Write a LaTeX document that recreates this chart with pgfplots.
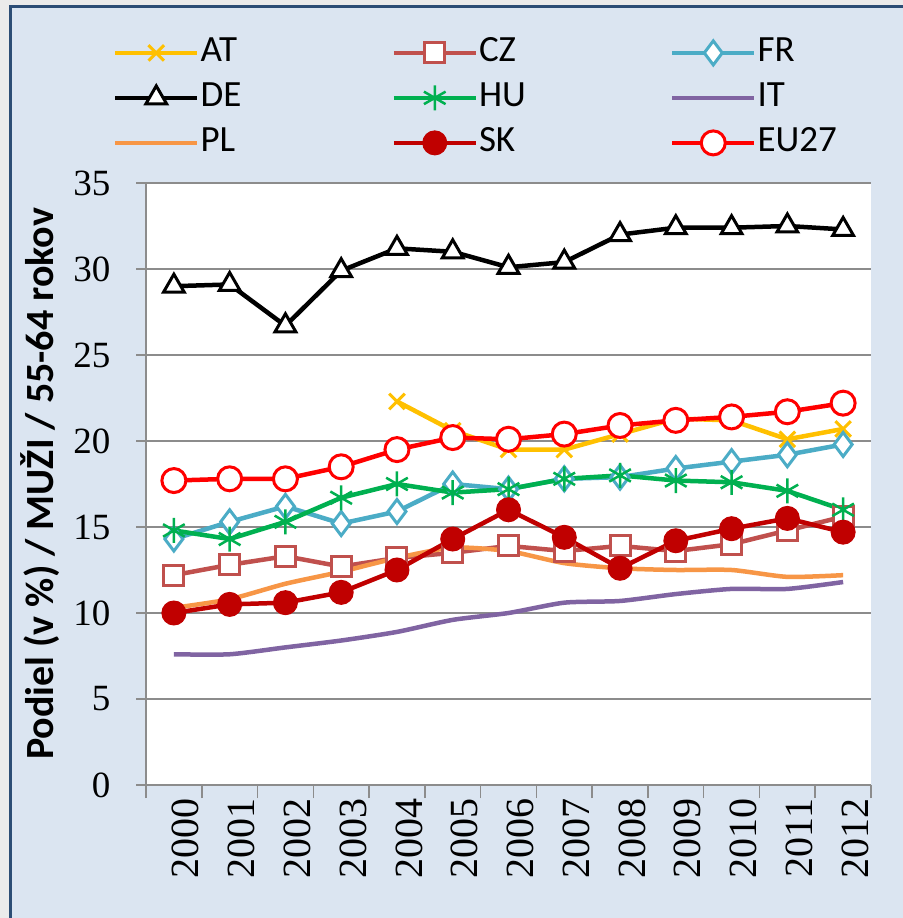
\documentclass[border=0pt]{standalone}
\usepackage{pgfplots}
\pgfplotsset{compat=1.18}
\usepackage{fontspec}
\setmainfont{Liberation Serif}
\newfontfamily\calibri{Carlito}
\definecolor{bg}{HTML}{DBE5F1}
\definecolor{bordercol}{HTML}{2C4D75}
\definecolor{gridc}{HTML}{8C8C8C}
\definecolor{cAT}{HTML}{FFC000}
\definecolor{cCZ}{HTML}{C0504D}
\definecolor{cFR}{HTML}{4BACC6}
\definecolor{cHU}{HTML}{00B050}
\definecolor{cIT}{HTML}{8064A2}
\definecolor{cPL}{HTML}{F79646}
\definecolor{cSK}{HTML}{C00000}
\definecolor{cEU}{HTML}{FF0000}
\newcommand{\lt}[1]{\makebox[190bp][l]{#1}}
\begin{document}
\begin{tikzpicture}[x=1bp,y=1bp]
\useasboundingbox (0,0) rectangle (903,918);
\fill[black!8] (0,0) rectangle (903,918);
\filldraw[fill=bg, draw=bordercol, line width=3bp] (10,-20) rectangle (930,911.5);
\begin{axis}[
  at={(146bp,133bp)}, anchor=south west,
  scale only axis, width=725bp, height=602bp,
  xmin=-0.5, xmax=12.5, ymin=0, ymax=35,
  axis background/.style={fill=white},
  axis x line*=bottom, axis y line*=left,
  axis line style={gridc, line width=1.5bp, -},
  tick align=outside,
  major tick length=10bp, minor tick length=13bp,
  tick style={gridc, line width=1.5bp},
  xtick={0,...,12},
  xticklabels={2000,2001,2002,2003,2004,2005,2006,2007,2008,2009,2010,2011,2012},
  every major x tick/.append style={draw=none},
  minor xtick={-0.5,0.5,...,12.5},
  ytick={0,5,...,35},
  ymajorgrids, grid style={gridc, line width=1.5bp},
  /pgf/number format/assume math mode=true,
  yticklabel style={font=\fontsize{37bp}{40bp}\selectfont, xshift=-22bp},
  xticklabel style={rotate=90, anchor=east, font=\fontsize{40bp}{44bp}\selectfont, yshift=-12bp},
  ylabel={Podiel (v \%) / MUŽI / 55-64 rokov},
  ylabel style={at={(axis description cs:-0.1455,0.5)}, anchor=center, rotate=0, font=\calibri\bfseries\fontsize{40bp}{44bp}\selectfont},
  every axis plot/.append style={line width=4.5bp},
  legend columns=3,
  legend cell align=left,
  legend style={at={(axis description cs:-0.0455,1.246)}, anchor=north west, draw=none, fill=none, inner sep=0pt, outer sep=0pt,
    font=\calibri\fontsize{37bp}{40bp}\selectfont, /tikz/column sep=0pt, /tikz/row sep=9bp,
    nodes={inner sep=1bp, text height=26bp, text depth=8bp, anchor=west}},
  legend image code/.code={\draw[mark repeat=2,mark phase=2] plot coordinates {(0bp,0bp) (41bp,0bp) (82bp,0bp)};},
]
\addplot[cAT, mark=x, mark size=11bp, mark options={line width=3bp}] coordinates {
(4,22.3) (5,20.6) (6,19.5) (7,19.5) (8,20.4) (9,21.3) (10,21.2) (11,20.1) (12,20.7)};
\addlegendentry{\lt{AT}}
\addplot[cCZ, mark=square*, mark size=10bp, mark options={fill=white, line width=3bp}] coordinates {
(0,12.2) (1,12.8) (2,13.3) (3,12.7) (4,13.2) (5,13.5) (6,13.9) (7,13.6) (8,13.9) (9,13.6) (10,14.0) (11,14.8) (12,15.6)};
\addlegendentry{\lt{CZ}}
\addplot[cFR, mark=diamond*, mark size=12bp, mark options={fill=white, line width=3bp}] coordinates {
(0,14.3) (1,15.3) (2,16.2) (3,15.2) (4,15.9) (5,17.5) (6,17.2) (7,17.8) (8,17.9) (9,18.4) (10,18.8) (11,19.2) (12,19.8)};
\addlegendentry{\lt{FR}}
\addplot[black, mark=triangle*, mark size=12bp, mark options={fill=white, line width=3bp}] coordinates {
(0,29.0) (1,29.1) (2,26.7) (3,29.9) (4,31.2) (5,31.0) (6,30.1) (7,30.4) (8,32.0) (9,32.4) (10,32.4) (11,32.5) (12,32.3)};
\addlegendentry{\lt{DE}}
\addplot[cHU, mark=asterisk, mark size=12.5bp, mark options={line width=2.5bp}] coordinates {
(0,14.8) (1,14.3) (2,15.3) (3,16.7) (4,17.5) (5,17.0) (6,17.2) (7,17.8) (8,18.0) (9,17.7) (10,17.6) (11,17.1) (12,16.0)};
\addlegendentry{\lt{HU}}
\addplot[cIT, smooth, tension=0.4, mark=none] coordinates {
(0,7.6) (1,7.6) (2,8.0) (3,8.4) (4,8.9) (5,9.6) (6,10.0) (7,10.6) (8,10.7) (9,11.1) (10,11.4) (11,11.4) (12,11.8)};
\addlegendentry{\lt{IT}}
\addplot[cPL, smooth, tension=0.4, mark=none] coordinates {
(0,10.3) (1,10.8) (2,11.7) (3,12.4) (4,13.2) (5,13.8) (6,13.6) (7,12.9) (8,12.6) (9,12.5) (10,12.5) (11,12.1) (12,12.2)};
\addlegendentry{\lt{PL}}
\addplot[cSK, mark=*, mark size=12bp, mark options={fill=cSK, line width=1bp}] coordinates {
(0,10.0) (1,10.5) (2,10.6) (3,11.2) (4,12.5) (5,14.3) (6,16.0) (7,14.4) (8,12.6) (9,14.2) (10,14.9) (11,15.5) (12,14.7)};
\addlegendentry{\lt{SK}}
\addplot[cEU, mark=*, mark size=12bp, mark options={fill=white, line width=3bp}] coordinates {
(0,17.7) (1,17.8) (2,17.8) (3,18.5) (4,19.5) (5,20.2) (6,20.1) (7,20.4) (8,20.9) (9,21.2) (10,21.4) (11,21.7) (12,22.2)};
\addlegendentry{\lt{EU27}}
\end{axis}
\end{tikzpicture}
\end{document}
